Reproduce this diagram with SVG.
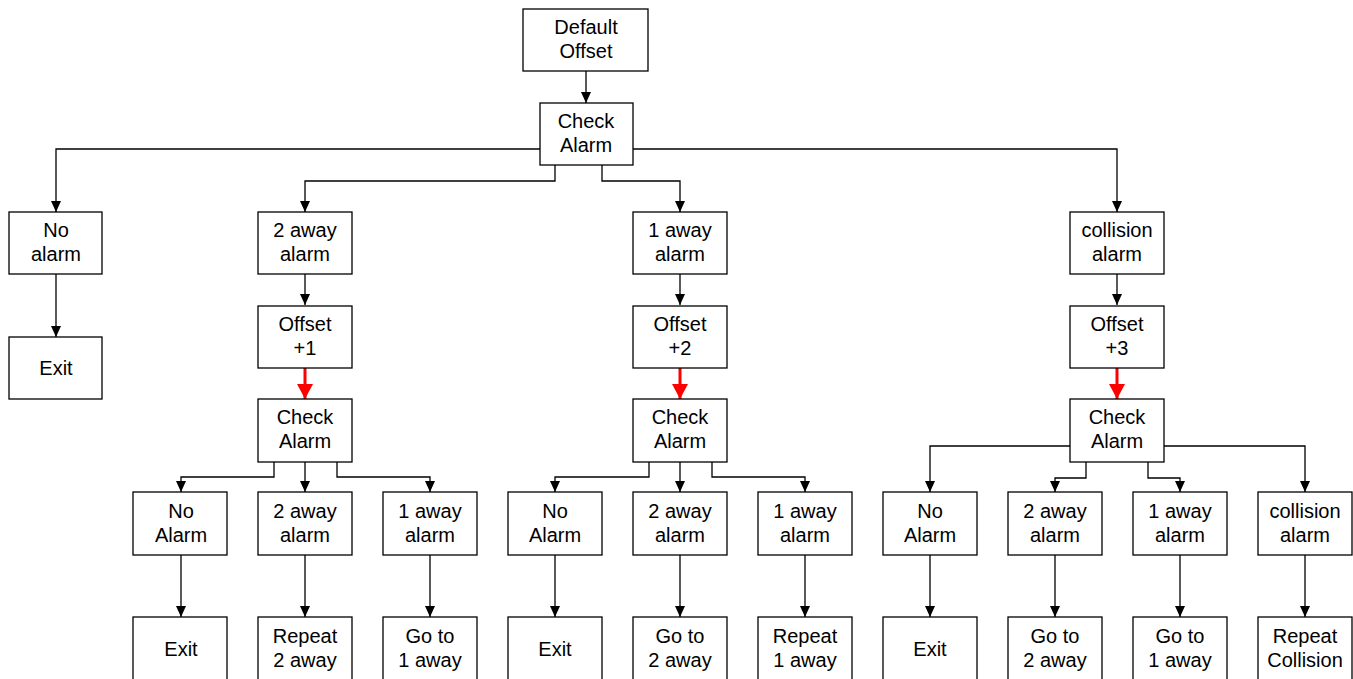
<svg xmlns="http://www.w3.org/2000/svg" width="1353" height="679" viewBox="0 0 1353 679">
<style>
.b{fill:#fff;stroke:#000;stroke-width:1.3}
text{font-family:"Liberation Sans",Arial,sans-serif;font-size:20px;fill:#000;text-anchor:middle}
.c{fill:none;stroke:#000;stroke-width:1.3;marker-end:url(#ah)}
.r{fill:none;stroke:#f00;stroke-width:3;marker-end:url(#rh)}
</style>
<defs>
<marker id="ah" markerUnits="userSpaceOnUse" markerWidth="12" markerHeight="12" viewBox="0 0 12 12" refX="11" refY="6" orient="auto"><path d="M0,1 L11,6 L0,11 Z" fill="#000"/></marker>
<marker id="rh" markerUnits="userSpaceOnUse" markerWidth="16" markerHeight="18" viewBox="0 0 16 18" refX="15" refY="9" orient="auto"><path d="M0,1 L15,9 L0,17 Z" fill="#f00"/></marker>
</defs>
<rect width="1353" height="679" fill="#fff"/>
<g id="connectors">
<path class="c" d="M586,71 V103"/>
<path class="c" d="M540,149 H56 V212"/>
<path class="c" d="M633,149 H1117 V212"/>
<path class="c" d="M555,165 V181 H305 V212"/>
<path class="c" d="M602,165 V181 H680 V212"/>
<path class="c" d="M56,274 V337"/>
<path class="c" d="M305,274 V305"/>
<path class="c" d="M680,274 V305"/>
<path class="c" d="M1117,274 V305"/>
<path class="r" d="M305,368 V399"/>
<path class="r" d="M680,368 V399"/>
<path class="r" d="M1117,368 V399"/>
<path class="c" d="M274,462 V477 H181 V492"/>
<path class="c" d="M305,462 V492"/>
<path class="c" d="M337,462 V477 H430 V492"/>
<path class="c" d="M649,462 V477 H555 V492"/>
<path class="c" d="M680,462 V492"/>
<path class="c" d="M712,462 V477 H805 V492"/>
<path class="c" d="M1070,446 H930 V492"/>
<path class="c" d="M1086,462 V478 H1055 V492"/>
<path class="c" d="M1148,462 V478 H1180 V492"/>
<path class="c" d="M1164,446 H1305 V492"/>
<path class="c" d="M181,555 V617"/>
<path class="c" d="M305,555 V617"/>
<path class="c" d="M430,555 V617"/>
<path class="c" d="M555,555 V617"/>
<path class="c" d="M680,555 V617"/>
<path class="c" d="M805,555 V617"/>
<path class="c" d="M930,555 V617"/>
<path class="c" d="M1055,555 V617"/>
<path class="c" d="M1180,555 V617"/>
<path class="c" d="M1305,555 V617"/>
</g>
<g id="n_default"><rect class="b" x="523" y="9" width="125" height="62"/><text x="586" y="34">Default</text><text x="586" y="58">Offset</text></g>
<g id="n_check0"><rect class="b" x="540" y="103" width="93" height="62"/><text x="586" y="128">Check</text><text x="586" y="152">Alarm</text></g>
<g id="n_noalarm"><rect class="b" x="9" y="212" width="93" height="62"/><text x="56" y="237">No</text><text x="56" y="261">alarm</text></g>
<g id="n_exit0"><rect class="b" x="9" y="337" width="93" height="62"/><text x="56" y="375">Exit</text></g>
<g id="n_2away"><rect class="b" x="258" y="212" width="94" height="62"/><text x="305" y="237">2 away</text><text x="305" y="261">alarm</text></g>
<g id="n_1away"><rect class="b" x="633" y="212" width="94" height="62"/><text x="680" y="237">1 away</text><text x="680" y="261">alarm</text></g>
<g id="n_coll"><rect class="b" x="1070" y="212" width="94" height="62"/><text x="1117" y="237">collision</text><text x="1117" y="261">alarm</text></g>
<g id="n_off1"><rect class="b" x="258" y="306" width="94" height="62"/><text x="305" y="331">Offset</text><text x="305" y="355">+1</text></g>
<g id="n_off2"><rect class="b" x="633" y="306" width="94" height="62"/><text x="680" y="331">Offset</text><text x="680" y="355">+2</text></g>
<g id="n_off3"><rect class="b" x="1070" y="306" width="94" height="62"/><text x="1117" y="331">Offset</text><text x="1117" y="355">+3</text></g>
<g id="n_check1"><rect class="b" x="258" y="399" width="94" height="63"/><text x="305" y="424">Check</text><text x="305" y="448">Alarm</text></g>
<g id="n_check2"><rect class="b" x="633" y="399" width="94" height="63"/><text x="680" y="424">Check</text><text x="680" y="448">Alarm</text></g>
<g id="n_check3"><rect class="b" x="1070" y="399" width="94" height="63"/><text x="1117" y="424">Check</text><text x="1117" y="448">Alarm</text></g>
<g id="n_a1"><rect class="b" x="133" y="492" width="94" height="63"/><text x="181" y="518">No</text><text x="181" y="542">Alarm</text></g>
<g id="n_a2"><rect class="b" x="258" y="492" width="94" height="63"/><text x="305" y="518">2 away</text><text x="305" y="542">alarm</text></g>
<g id="n_a3"><rect class="b" x="383" y="492" width="94" height="63"/><text x="430" y="518">1 away</text><text x="430" y="542">alarm</text></g>
<g id="n_b1"><rect class="b" x="508" y="492" width="94" height="63"/><text x="555" y="518">No</text><text x="555" y="542">Alarm</text></g>
<g id="n_b2"><rect class="b" x="633" y="492" width="94" height="63"/><text x="680" y="518">2 away</text><text x="680" y="542">alarm</text></g>
<g id="n_b3"><rect class="b" x="758" y="492" width="94" height="63"/><text x="805" y="518">1 away</text><text x="805" y="542">alarm</text></g>
<g id="n_c1"><rect class="b" x="883" y="492" width="94" height="63"/><text x="930" y="518">No</text><text x="930" y="542">Alarm</text></g>
<g id="n_c2"><rect class="b" x="1008" y="492" width="94" height="63"/><text x="1055" y="518">2 away</text><text x="1055" y="542">alarm</text></g>
<g id="n_c3"><rect class="b" x="1133" y="492" width="94" height="63"/><text x="1180" y="518">1 away</text><text x="1180" y="542">alarm</text></g>
<g id="n_c4"><rect class="b" x="1258" y="492" width="94" height="63"/><text x="1305" y="518">collision</text><text x="1305" y="542">alarm</text></g>
<g id="n_d1"><rect class="b" x="133" y="617" width="94" height="63"/><text x="181" y="656">Exit</text></g>
<g id="n_d2"><rect class="b" x="258" y="617" width="94" height="63"/><text x="305" y="643">Repeat</text><text x="305" y="667">2 away</text></g>
<g id="n_d3"><rect class="b" x="383" y="617" width="94" height="63"/><text x="430" y="643">Go to</text><text x="430" y="667">1 away</text></g>
<g id="n_e1"><rect class="b" x="508" y="617" width="94" height="63"/><text x="555" y="656">Exit</text></g>
<g id="n_e2"><rect class="b" x="633" y="617" width="94" height="63"/><text x="680" y="643">Go to</text><text x="680" y="667">2 away</text></g>
<g id="n_e3"><rect class="b" x="758" y="617" width="94" height="63"/><text x="805" y="643">Repeat</text><text x="805" y="667">1 away</text></g>
<g id="n_f1"><rect class="b" x="883" y="617" width="94" height="63"/><text x="930" y="656">Exit</text></g>
<g id="n_f2"><rect class="b" x="1008" y="617" width="94" height="63"/><text x="1055" y="643">Go to</text><text x="1055" y="667">2 away</text></g>
<g id="n_f3"><rect class="b" x="1133" y="617" width="94" height="63"/><text x="1180" y="643">Go to</text><text x="1180" y="667">1 away</text></g>
<g id="n_f4"><rect class="b" x="1258" y="617" width="94" height="63"/><text x="1305" y="643">Repeat</text><text x="1305" y="667">Collision</text></g>
</svg>
